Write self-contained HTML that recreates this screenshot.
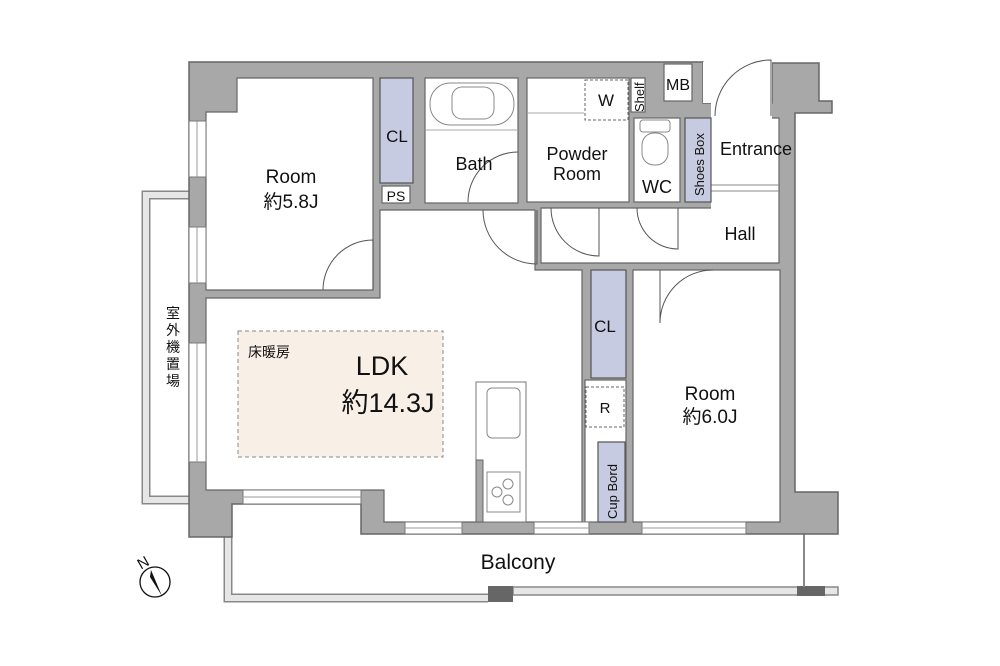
<!DOCTYPE html>
<html><head><meta charset="utf-8"><style>
html,body{margin:0;padding:0;background:#fff;width:1000px;height:666px;overflow:hidden}
svg text{font-family:"Liberation Sans","Noto Sans CJK JP",sans-serif;fill:#111}
</style></head><body>
<svg width="1000" height="666" viewBox="0 0 1000 666" xmlns="http://www.w3.org/2000/svg">
<path d="M189,195 H146 V500 H189" fill="none" stroke="#888" stroke-width="9"/>
<path d="M189,195 H146 V500 H189" fill="none" stroke="#e6e6e6" stroke-width="6"/>
<path d="M228,537 V598 H488" fill="none" stroke="#888" stroke-width="9"/>
<path d="M228,537 V598 H488" fill="none" stroke="#e6e6e6" stroke-width="6"/>
<rect x="513" y="587" width="325" height="8" fill="#e6e6e6" stroke="#888" stroke-width="1.5"/>
<rect x="488" y="586" width="25" height="16" fill="#666"/>
<rect x="797" y="586" width="28" height="10" fill="#666"/>
<line x1="804" y1="534" x2="804" y2="587" stroke="#888" stroke-width="2"/>
<path d="M189,62 H703 V103 H772 V63 H819 V101 H832 V113 H795 V492 H838 V534 H361 V504 H232 V537 H189 Z" fill="#a8a8a8" stroke="#666" stroke-width="1.5"/>
<g fill="#fff" stroke="#666" stroke-width="1.2">
<path d="M237,78 H373 V290 H206 V112 H237 Z"/>
<rect x="425" y="78" width="93" height="125"/>
<rect x="527" y="78" width="102" height="124"/>
<rect x="631" y="78" width="14" height="34"/>
<rect x="664" y="64" width="28" height="37"/>
<rect x="634" y="118" width="46" height="84"/>
<path d="M711,103 H715 V118 H779 V263 H541 V208 H711 Z" stroke="none"/>
<path d="M715,118 H779 V263 H541 V208 H711" fill="none"/>
<path d="M206,298 H380 V210 H535 V270 H582 V522 H384 V490 H206 Z"/>
<rect x="633" y="270" width="147" height="252"/>
<rect x="585" y="380" width="41" height="142"/>
<rect x="382" y="186" width="28" height="17"/>
</g>
<rect x="703" y="62" width="69" height="41" fill="#fff"/>
<rect x="715" y="103" width="57" height="16" fill="#fff"/>
<line x1="711" y1="185" x2="779" y2="185" stroke="#888" stroke-width="1"/>
<line x1="711" y1="191" x2="779" y2="191" stroke="#888" stroke-width="1"/>
<rect x="380" y="78" width="33" height="105" fill="#c6cbe2" stroke="#555" stroke-width="1.2"/>
<rect x="685" y="118" width="26" height="84" fill="#c6cbe2" stroke="#555" stroke-width="1.2"/>
<rect x="591" y="270" width="35" height="108" fill="#c6cbe2" stroke="#555" stroke-width="1.2"/>
<rect x="598" y="442" width="27" height="80" fill="#c6cbe2" stroke="#555" stroke-width="1.2"/>
<rect x="585" y="80" width="43" height="40" fill="none" stroke="#666" stroke-dasharray="3,2"/>
<rect x="586" y="387" width="38" height="40" fill="none" stroke="#666" stroke-dasharray="3,2"/>
<rect x="238" y="331" width="205" height="126" fill="#f8efe6" stroke="#888" stroke-dasharray="4,3"/>
<g fill="#fff" stroke="#777" stroke-width="1">
<rect x="189" y="121" width="17" height="56"/><rect x="189" y="227" width="17" height="56"/><rect x="189" y="343" width="17" height="119"/>
<rect x="243" y="490" width="118" height="14"/>
<rect x="405" y="522" width="57" height="12"/><rect x="534" y="522" width="55" height="12"/><rect x="642" y="522" width="104" height="12"/>
</g>
<g stroke="#999" stroke-width="1">
<line x1="197" y1="121" x2="197" y2="177"/><line x1="197" y1="227" x2="197" y2="283"/><line x1="197" y1="343" x2="197" y2="462"/>
<line x1="243" y1="497" x2="361" y2="497"/><line x1="405" y1="528" x2="462" y2="528"/><line x1="534" y1="528" x2="589" y2="528"/><line x1="642" y1="528" x2="746" y2="528"/>
</g>
<rect x="476" y="382" width="50" height="140" fill="#fff" stroke="#777"/>
<rect x="476" y="460" width="7" height="62" fill="#a8a8a8" stroke="#666"/>
<rect x="487" y="388" width="33" height="50" rx="5" fill="none" stroke="#888"/>
<rect x="487" y="472" width="33" height="40" fill="none" stroke="#888"/>
<circle cx="497" cy="492" r="5" fill="none" stroke="#888"/><circle cx="508" cy="484" r="5" fill="none" stroke="#888"/><circle cx="508" cy="500" r="5" fill="none" stroke="#888"/>
<rect x="430" y="83" width="84" height="42" rx="20" fill="none" stroke="#888"/>
<rect x="452" y="87" width="42" height="32" rx="10" fill="none" stroke="#888"/>
<line x1="425" y1="130" x2="518" y2="130" stroke="#aaa"/>
<rect x="642" y="133" width="26" height="32" rx="12" fill="none" stroke="#888"/>
<rect x="640" y="120" width="30" height="12" rx="3" fill="none" stroke="#888"/>
<line x1="527" y1="113" x2="584" y2="113" stroke="#aaa"/>
<g fill="none" stroke="#555" stroke-width="1">
<path d="M323,290 A50,50 0 0 1 373,240 V290"/>
<path d="M468,202 A50,50 0 0 1 518,152"/>
<path d="M483,210 A54,54 0 0 0 537,264 V210"/>
<path d="M551,208 A48,48 0 0 0 599,256 V208"/>
<path d="M637,208 A41,41 0 0 0 678,249 V208"/>
<path d="M660,323 V270 M660,323 A53,53 0 0 1 713,270"/>
<path d="M715,116 A56,56 0 0 1 771,60 V116"/>
</g>
<circle cx="155" cy="582" r="15" fill="none" stroke="#111" stroke-width="1.3"/>
<path d="M151,570 L162,596 L150,577 Z" fill="#111"/>
<text x="137" y="567" font-size="15" transform="rotate(-30 144 561)">N</text>
<g text-anchor="middle">
<text x="291" y="183" font-size="19">Room</text><text x="291" y="208" font-size="19">約5.8J</text>
<text x="397" y="142" font-size="17">CL</text>
<text x="396" y="201" font-size="14">PS</text>
<text x="474" y="170" font-size="18">Bath</text>
<text x="577" y="160" font-size="18">Powder</text><text x="577" y="180" font-size="18">Room</text>
<text x="606" y="106" font-size="17">W</text>
<text x="678" y="90" font-size="16">MB</text>
<text x="657" y="193" font-size="18">WC</text>
<text x="756" y="155" font-size="18">Entrance</text>
<text x="740" y="240" font-size="18">Hall</text>
<text x="605" y="332" font-size="17">CL</text>
<text x="605" y="413" font-size="15">R</text>
<text x="710" y="400" font-size="19">Room</text><text x="710" y="423" font-size="19">約6.0J</text>
<text x="382" y="375" font-size="27">LDK</text>
<text x="388" y="412" font-size="27">約14.3J</text>
<text x="518" y="569" font-size="21">Balcony</text>
<text x="173" y="318" font-size="14">室</text>
<text x="173" y="335" font-size="14">外</text>
<text x="173" y="352" font-size="14">機</text>
<text x="173" y="369" font-size="14">置</text>
<text x="173" y="386" font-size="14">場</text>
</g>
<text x="248" y="357" font-size="14">床暖房</text>
<text font-size="13" transform="translate(644,112) rotate(-90)">Shelf</text>
<text font-size="13" transform="translate(704,196) rotate(-90)">Shoes Box</text>
<text font-size="13" transform="translate(617,519) rotate(-90)">Cup Bord</text>
</svg>
</body></html>
